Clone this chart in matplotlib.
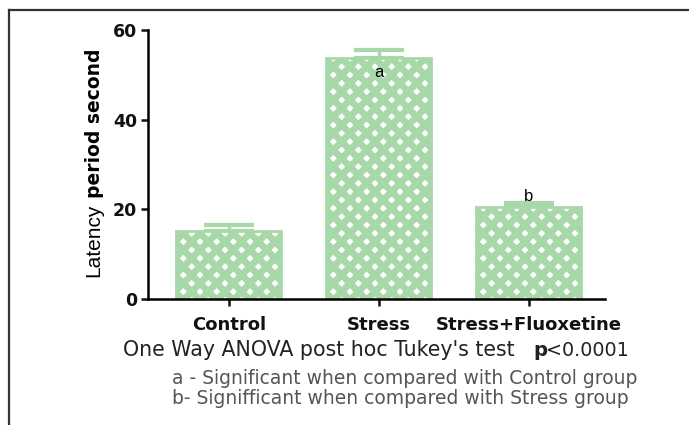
import numpy as np
import matplotlib.pyplot as plt
from matplotlib.lines import Line2D

groups = ["Control", "Stress", "Stress+Fluoxetine"]
means = [15.2, 53.8, 20.5]
errors = [1.3, 1.7, 1.0]
letters = ["", "a", "b"]
letter_y = [None, 50.5, 22.8]

green = "#a8d8a8"
W, H = 689, 425

plt.rcParams["hatch.linewidth"] = 4.9
fig = plt.figure(figsize=(W / 100, H / 100), dpi=100)
ax = fig.add_axes([148 / W, 1 - 299 / H, (605 - 148) / W, (299 - 30) / H])

x = np.arange(len(groups))
ax.bar(x, means, width=0.7, color="white", edgecolor=green, hatch="xx", linewidth=2, zorder=2)
ax.errorbar(x, means, yerr=[np.zeros(3), errors], fmt="none", ecolor=green,
            elinewidth=2.5, capsize=18, capthick=3, zorder=1)

for xi, t, ty in zip(x, letters, letter_y):
    if t:
        ax.text(xi, ty, t, ha="center", va="center", fontsize=12, family="Liberation Sans", zorder=3)

ax.set_xlim(-0.54, 2.51)
ax.set_ylim(0, 60)
ax.set_yticks([0, 20, 40, 60])
ax.set_xticks(x)
ax.set_xticklabels(groups, fontsize=13, fontweight="bold", family="DejaVu Sans")
for lab in ax.get_yticklabels():
    lab.set_fontsize(12.5)
    lab.set_fontweight("bold")
    lab.set_family("DejaVu Sans")
for s in ["top", "right"]:
    ax.spines[s].set_visible(False)
for s in ["left", "bottom"]:
    ax.spines[s].set_linewidth(1.8)
ax.tick_params(axis="both", width=1.8, length=5, direction="out", colors="#111111")
ax.tick_params(axis="y", pad=3)
ax.tick_params(axis="x", pad=7)

# y label: mixed weight
fig.text(94 / W, 1 - 277 / H, "Latency", rotation=90, ha="center", va="bottom",
         fontsize=15, family="Liberation Sans")
fig.text(94 / W, 1 - 198 / H, "period second", rotation=90, ha="center", va="bottom",
         fontsize=13.5, fontweight="bold", family="DejaVu Sans")

fig.text(123 / W, 1 - 350 / H, "One Way ANOVA post hoc Tukey's test", ha="left", va="center",
         fontsize=14.8, family="DejaVu Sans", color="#222222")
fig.text(533 / W, 1 - 350 / H, "p", ha="left", va="center",
         fontsize=14.3, fontweight="bold", family="DejaVu Sans", color="#222222")
fig.text(546 / W, 1 - 350 / H, "<0.0001", ha="left", va="center",
         fontsize=13.8, family="DejaVu Sans", color="#222222")
fig.text(172 / W, 1 - 378 / H, "a - Significant when compared with Control group", ha="left",
         va="center", fontsize=13.5, family="DejaVu Sans", color="#555555")
fig.text(172 / W, 1 - 398 / H, "b- Signifficant when compared with Stress group", ha="left",
         va="center", fontsize=13.5, family="DejaVu Sans", color="#555555")

# outer frame (left and top edges)
fig.add_artist(Line2D([9 / W, 9 / W], [0, 1 - 10 / H], transform=fig.transFigure, color="#333333", lw=1.6))
fig.add_artist(Line2D([9 / W, 1], [1 - 10 / H, 1 - 10 / H], transform=fig.transFigure, color="#333333", lw=1.6))

fig.savefig("out.png", dpi=100)
